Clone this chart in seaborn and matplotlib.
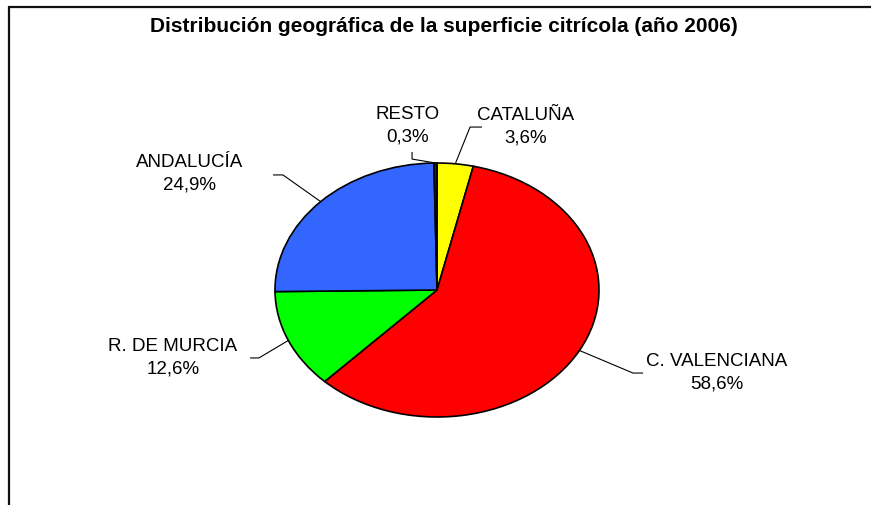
import numpy as np
import matplotlib
matplotlib.use("Agg")
import matplotlib.pyplot as plt
import seaborn as sns
from matplotlib.lines import Line2D

# Superficie citrícola por comunidad (año 2006), en %
regiones = ["CATALUÑA", "C. VALENCIANA", "R. DE MURCIA", "ANDALUCÍA", "RESTO"]
porcentajes = [3.6, 58.6, 12.6, 24.9, 0.3]
colores = ["#FFFF00", "#FF0000", "#00FF00", "#3366FF", "#222222"]
titulo = "Distribución geográfica de la superficie citrícola (año 2006)"

sns.set_style("white")
plt.rcParams["font.family"] = ["Liberation Sans", "DejaVu Sans"]

W, H = 871, 506
fig = plt.figure(figsize=(W / 100, H / 100), dpi=100)
ax = fig.add_axes([0, 0, 1, 1])

# pie centre (437, 291) px, radii 162 x 127 px
cx, cy, rx, ry = 437, 291, 162, 127

wedges, _ = ax.pie(porcentajes, colors=colores, startangle=90, counterclock=False,
                   wedgeprops=dict(edgecolor="black", linewidth=1.2))
ax.set_aspect("auto")
ax.set_xlim(-cx / rx, (W - cx) / rx)
ax.set_ylim(-(H - cy) / ry, cy / ry)
ax.axis("off")

# label centre, elbow and end of leader line (pie units)
etiquetas = {
    "CATALUÑA": ((0.549, 1.291), (0.204, 1.283), (0.278, 1.283)),
    "C. VALENCIANA": ((1.728, -0.646), (1.210, -0.654), (1.272, -0.654)),
    "R. DE MURCIA": ((-1.630, -0.528), (-1.099, -0.535), (-1.154, -0.535)),
    "ANDALUCÍA": ((-1.525, 0.921), (-0.951, 0.906), (-1.012, 0.906)),
    "RESTO": ((-0.179, 1.299), (-0.154, 1.031), (-0.154, 1.087)),
}

for w, nombre, pct in zip(wedges, regiones, porcentajes):
    ang = np.deg2rad((w.theta1 + w.theta2) / 2)
    ax0, ay0 = np.cos(ang), np.sin(ang)
    centro, codo, fin = etiquetas[nombre]
    ax.plot([ax0, codo[0], fin[0]], [ay0, codo[1], fin[1]],
            color="black", lw=0.8, solid_capstyle="butt")
    txt = f"{nombre}\n" + f"{pct:.1f}".replace(".", ",") + "%"
    ax.text(centro[0], centro[1], txt, ha="center", va="center",
            fontsize=13.5, linespacing=1.4, color="black")

fig.text(444 / W, 1 - 27 / H, titulo, ha="center", va="center",
         fontsize=15, fontweight="bold", color="black")

# chart frame: top and left edges only
fig.add_artist(Line2D([9 / W, 1], [1 - 8 / H, 1 - 8 / H], color="#111111", lw=1.6))
fig.add_artist(Line2D([9 / W, 9 / W], [1 - 8 / H, 0], color="#111111", lw=1.6))

fig.savefig("out.png", dpi=100)
